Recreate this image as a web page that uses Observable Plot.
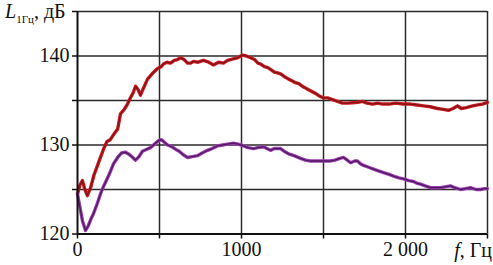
<!DOCTYPE html>
<html>
<head>
<meta charset="utf-8">
<script src="https://cdn.jsdelivr.net/npm/d3@7"></script>
<script src="https://cdn.jsdelivr.net/npm/@observablehq/plot@0.6"></script>
<style>
  html, body { margin: 0; padding: 0; background: #fff; }
  #chart svg text, #chart svg tspan { font-family: "Liberation Serif", "DejaVu Serif", serif !important; }
</style>
</head>
<body>
<div id="chart"></div>
<script>
// ---- data ----
const freqRed = [0,15,30,45,60,80,100,120,140,160,180,200,225,245,262,285,305,323,340,354,370,384,400,427,455,488,510,524,545,567,590,610,628,650,671,690,707,735,768,800,829,860,890,915,933,955,976,1006,1030,1055,1080,1100,1116,1140,1160,1177,1200,1220,1238,1260,1287,1310,1329,1350,1370,1390,1420,1451,1475,1500,1525,1555,1585,1616,1650,1677,1710,1738,1765,1799,1830,1860,1900,1940,1988,2030,2070,2110,2150,2195,2230,2262,2290,2317,2340,2370,2409,2440,2470,2500];
const levelRed = [124.5,125.5,126.0,125.0,124.3,125.2,126.6,127.6,128.6,129.6,130.4,130.6,131.3,131.8,133.5,134.0,134.6,135.3,135.9,136.6,136.2,135.6,136.3,137.4,138.0,138.6,138.8,139.1,139.3,139.2,139.5,139.6,139.8,139.6,139.2,139.2,139.4,139.3,139.5,139.3,139.0,139.3,139.2,139.5,139.6,139.7,139.8,140.1,140.0,139.8,139.6,139.2,139.1,138.8,138.7,138.5,138.2,138.1,138.0,137.7,137.4,137.2,137.0,136.9,136.6,136.4,136.1,135.8,135.5,135.3,135.3,135.1,134.9,134.7,134.7,134.75,134.8,134.9,134.7,134.6,134.7,134.6,134.6,134.7,134.6,134.6,134.5,134.4,134.3,134.1,134.0,133.9,134.1,134.4,134.1,134.2,134.4,134.5,134.6,134.8];

const freqPurple = [0,15,30,49,65,80,98,120,140,160,183,200,220,245,268,290,311,330,354,375,396,420,445,470,495,512,530,549,575,600,620,645,671,700,732,760,793,820,854,885,915,951,980,1012,1040,1073,1100,1134,1155,1177,1200,1238,1260,1287,1320,1360,1390,1421,1460,1500,1540,1570,1600,1622,1645,1665,1690,1707,1725,1744,1775,1805,1835,1866,1900,1927,1960,1988,2020,2049,2070,2091,2120,2152,2180,2213,2240,2274,2300,2335,2365,2396,2430,2457,2480,2500];
const levelPurple = [124.5,123.0,121.5,120.4,120.9,121.6,122.3,123.4,124.5,125.4,126.3,127.0,127.9,128.6,129.1,129.2,129.0,128.7,128.3,128.7,129.3,129.5,129.7,130.1,130.5,130.6,130.3,130.0,129.8,129.5,129.3,128.9,128.6,128.7,128.8,129.1,129.4,129.6,129.9,130.0,130.1,130.2,130.1,129.9,129.7,129.6,129.7,129.8,129.6,129.4,129.6,129.6,129.3,129.0,128.8,128.5,128.3,128.2,128.2,128.2,128.2,128.3,128.5,128.6,128.3,128.0,128.2,128.2,127.9,127.7,127.5,127.3,127.1,126.9,126.7,126.5,126.3,126.2,126.0,125.9,125.7,125.6,125.4,125.2,125.2,125.2,125.3,125.4,125.2,125.0,125.1,125.2,125.0,125.0,125.1,125.1];

const xTickValues = [0, 500, 1000, 1500, 2000, 2500];
const xTickLabels = ["0", "", "1000", "", "2 000", ""];
const yTickValues = [120, 125, 130, 135, 140, 145];
const yTickLabels = ["120", "", "130", "", "140", ""];
const xTitle = ["f", ", Гц"];
const yTitle = ["L", "1Гц", ", дБ"];

const red = freqRed.map((f, i) => ({f, L: levelRed[i]}));
const purple = freqPurple.map((f, i) => ({f, L: levelPurple[i]}));

const plot = Plot.plot({
  width: 493,
  height: 265,
  marginLeft: 77,
  marginRight: 6,
  marginTop: 11,
  marginBottom: 31.5,
  x: {domain: [0, 2500]},
  y: {domain: [120, 145]},
  style: {fontFamily: "Liberation Serif, serif", fontSize: "20px", background: "#fff", color: "#111"},
  marks: [
    Plot.gridX(xTickValues.slice(1), {stroke: "#2a2a2a", strokeOpacity: 1, strokeWidth: 1.5}),
    Plot.gridY(yTickValues.slice(1), {stroke: "#2a2a2a", strokeOpacity: 1, strokeWidth: 1.5}),
    Plot.axisX({ticks: xTickValues, tickSize: 5, tickPadding: 3, tickFormat: d => xTickLabels[xTickValues.indexOf(d)], label: null, stroke: "#111", strokeWidth: 1.5, fontSize: 20}),
    Plot.axisY({ticks: yTickValues, tickSize: 5, tickPadding: 3, tickFormat: d => yTickLabels[yTickValues.indexOf(d)], label: null, stroke: "#111", strokeWidth: 1.5, fontSize: 20}),
    Plot.line(red, {x: "f", y: "L", stroke: "#d01c22", strokeWidth: 3.4, curve: "linear"}),
    Plot.line(red, {x: "f", y: "L", stroke: "#7e1214", strokeWidth: 1.3, curve: "linear"}),
    Plot.line(purple, {x: "f", y: "L", stroke: "#9b3fae", strokeWidth: 3.4, curve: "linear"}),
    Plot.line(purple, {x: "f", y: "L", stroke: "#4e1760", strokeWidth: 1.3, curve: "linear"}),
    Plot.ruleX([0], {stroke: "#111", strokeWidth: 2}),
    Plot.ruleY([120], {stroke: "#111", strokeWidth: 2})
  ]
});

document.getElementById("chart").appendChild(plot);

// axis titles as real text
const svg = d3.select(plot);
const yTop = plot.scale("y").apply(145);
const yt = svg.append("text")
  .attr("x", 5)
  .attr("y", yTop + 7)
  .attr("text-anchor", "start")
  .attr("font-size", 20)
  .attr("fill", "#111");
yt.append("tspan").attr("font-style", "italic").text(yTitle[0]);
yt.append("tspan").attr("font-size", 11).attr("dy", 5).text(yTitle[1]);
yt.append("tspan").attr("dy", -5).text(yTitle[2]);

const xBase = plot.scale("y").apply(120) + 23;
const xt = svg.append("text")
  .attr("x", 492)
  .attr("y", xBase)
  .attr("text-anchor", "end")
  .attr("font-size", 20)
  .attr("fill", "#111");
xt.append("tspan").attr("font-style", "italic").text(xTitle[0]);
xt.append("tspan").text(xTitle[1]);
</script>
</body>
</html>
